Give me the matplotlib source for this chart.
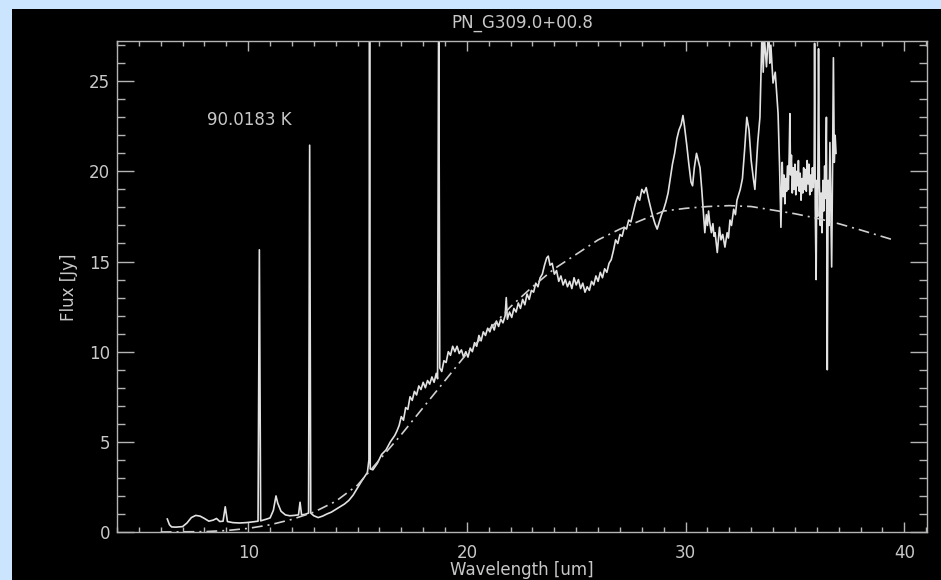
import matplotlib
matplotlib.use('Agg')
import matplotlib.pyplot as plt
from matplotlib.patches import Rectangle
from matplotlib.ticker import MultipleLocator

# spectrum (wavelength in um, flux in Jy)
wave = [6.30, 6.40, 6.50, 6.70, 7.00, 7.20, 7.40, 7.60, 7.80, 8.00,
        8.20, 8.40, 8.55, 8.70, 8.85, 8.95, 9.05, 9.30, 9.60, 9.90,
        10.20, 10.45, 10.51, 10.57, 10.80, 11.00, 11.15, 11.27, 11.35, 11.50,
        11.70, 11.90, 12.10, 12.30, 12.37, 12.44, 12.60, 12.76, 12.81, 12.86,
        13.00, 13.20, 13.40, 13.60, 13.80, 14.00, 14.20, 14.40, 14.60, 14.80,
        15.00, 15.20, 15.45, 15.52, 15.55, 15.58, 15.70, 15.90, 16.10, 16.30,
        16.50, 16.70, 16.80, 16.90, 17.00, 17.10, 17.20, 17.30, 17.40, 17.50,
        17.60, 17.70, 17.80, 17.90, 18.00, 18.10, 18.20, 18.30, 18.40, 18.50,
        18.60, 18.66, 18.71, 18.76, 18.85, 18.95, 19.05, 19.15, 19.25, 19.35,
        19.45, 19.55, 19.65, 19.75, 19.85, 19.95, 20.05, 20.15, 20.25, 20.35,
        20.45, 20.55, 20.65, 20.75, 20.85, 20.95, 21.05, 21.15, 21.25, 21.35,
        21.45, 21.55, 21.65, 21.75, 21.80, 21.85, 21.95, 22.05, 22.15, 22.25,
        22.35, 22.45, 22.55, 22.65, 22.75, 22.85, 22.95, 23.05, 23.15, 23.25,
        23.35, 23.45, 23.55, 23.65, 23.72, 23.80, 23.90, 24.00, 24.10, 24.20,
        24.30, 24.40, 24.50, 24.60, 24.70, 24.80, 24.90, 25.00, 25.10, 25.20,
        25.30, 25.40, 25.50, 25.60, 25.70, 25.80, 25.90, 26.00, 26.10, 26.20,
        26.30, 26.40, 26.50, 26.60, 26.70, 26.80, 26.90, 27.00, 27.10, 27.20,
        27.30, 27.40, 27.50, 27.60, 27.70, 27.80, 27.90, 28.00, 28.10, 28.20,
        28.30, 28.40, 28.50, 28.60, 28.70, 28.80, 28.90, 29.00, 29.10, 29.20,
        29.30, 29.40, 29.50, 29.60, 29.70, 29.80, 29.88, 29.95, 30.05, 30.15,
        30.25, 30.32, 30.40, 30.50, 30.58, 30.66, 30.74, 30.80, 30.88, 30.95,
        31.00, 31.05, 31.10, 31.18, 31.25, 31.30, 31.35, 31.45, 31.55, 31.62,
        31.70, 31.80, 31.90, 31.96, 32.03, 32.10, 32.20, 32.28, 32.35, 32.50,
        32.60, 32.70, 32.80, 32.90, 33.00, 33.10, 33.17, 33.30, 33.40, 33.50,
        33.55, 33.60, 33.70, 33.80, 33.85, 33.90, 34.00, 34.10, 34.18, 34.23,
        34.30, 34.36, 34.42, 34.46, 34.50, 34.54, 34.58, 34.62, 34.66, 34.70,
        34.74, 34.77, 34.80, 34.84, 34.88, 34.92, 34.96, 35.00, 35.04, 35.08,
        35.12, 35.16, 35.20, 35.24, 35.28, 35.32, 35.36, 35.40, 35.44, 35.48,
        35.52, 35.56, 35.60, 35.64, 35.68, 35.72, 35.76, 35.80, 35.84, 35.88,
        35.90, 35.93, 35.97, 36.00, 36.04, 36.08, 36.12, 36.16, 36.20, 36.24,
        36.28, 36.32, 36.36, 36.40, 36.44, 36.48, 36.52, 36.56, 36.60, 36.64,
        36.68, 36.72, 36.76, 36.80, 36.84, 36.88]
flux = [0.72, 0.40, 0.28, 0.27, 0.30, 0.50, 0.80, 0.92, 0.88, 0.75,
        0.60, 0.66, 0.75, 0.58, 0.60, 1.40, 0.58, 0.52, 0.50, 0.52,
        0.56, 0.60, 15.65, 0.62, 0.70, 0.78, 1.20, 2.00, 1.60, 1.15,
        0.95, 0.90, 0.92, 0.95, 1.65, 0.95, 0.98, 1.05, 21.45, 1.05,
        0.90, 0.80, 0.88, 1.00, 1.10, 1.25, 1.40, 1.55, 1.75, 2.05,
        2.45, 2.85, 3.30, 4.00, 30.0, 3.50, 3.45, 3.80, 4.30, 4.55,
        5.00, 5.35, 5.60, 5.90, 6.40, 6.20, 6.90, 6.80, 7.50, 7.30,
        7.80, 7.60, 8.10, 7.90, 8.30, 8.00, 8.40, 8.20, 8.60, 8.30,
        8.80, 8.50, 30.0, 9.10, 8.90, 9.50, 9.40, 10.0, 9.80, 10.3,
        10.0, 10.3, 9.90, 10.1, 9.70, 10.0, 9.70, 10.2, 10.0, 10.5,
        10.3, 10.9, 10.6, 11.1, 10.9, 11.3, 11.1, 11.5, 11.2, 11.7,
        11.4, 11.8, 11.6, 12.0, 13.0, 11.8, 12.2, 11.9, 12.4, 12.2,
        12.7, 12.4, 12.9, 12.6, 13.2, 12.9, 13.4, 13.3, 13.8, 13.6,
        14.1, 14.3, 14.8, 15.2, 15.3, 14.8, 14.9, 14.3, 14.5, 13.9,
        14.2, 13.7, 14.0, 13.6, 13.9, 13.5, 14.1, 13.7, 14.0, 13.5,
        13.8, 13.3, 13.6, 13.4, 13.9, 13.7, 14.2, 13.9, 14.4, 14.1,
        14.6, 14.4, 14.9, 15.1, 15.6, 16.2, 16.0, 16.5, 16.4, 16.9,
        16.8, 17.3, 17.2, 17.7, 18.2, 18.6, 18.4, 19.0, 18.8, 19.1,
        18.5, 18.0, 17.5, 17.1, 16.8, 17.2, 17.6, 17.9, 18.3, 18.8,
        19.6, 20.4, 21.0, 21.8, 22.3, 22.6, 23.1, 22.5, 21.5, 20.4,
        19.4, 19.2, 20.2, 21.0, 20.6, 20.2, 19.0, 18.0, 16.6, 17.6,
        17.0, 17.8, 17.2, 16.6, 17.1, 16.4, 16.6, 15.5, 16.9, 16.2,
        16.5, 15.8, 16.6, 16.3, 17.3, 17.0, 17.9, 17.6, 18.4, 19.0,
        19.6, 21.2, 23.0, 22.3, 20.6, 19.6, 19.0, 21.6, 23.0, 28.0,
        25.5, 27.5, 25.8, 28.0, 26.0, 27.0, 24.9, 25.5, 24.1, 23.2,
        20.2, 16.9, 20.5, 18.6, 19.8, 18.2, 19.6, 18.9, 20.3, 19.0,
        21.0, 23.2, 19.8, 20.9, 18.8, 20.2, 19.0, 20.4, 18.7, 20.0,
        19.2, 20.6, 18.9, 19.9, 18.4, 19.6, 18.8, 20.2, 19.0, 20.1,
        18.9, 20.6, 19.3, 20.4, 18.7, 19.8, 18.9, 20.2, 19.1, 20.5,
        27.1, 18.0, 14.0, 19.5, 17.5, 26.8, 19.3, 17.0, 18.8, 16.6,
        19.5, 17.8, 20.3, 18.5, 23.0, 9.00, 19.5, 17.0, 21.6, 18.0,
        14.7, 20.0, 26.3, 20.5, 22.0, 21.0]

# blackbody fit drawn as dash-dot
fit_wave = [6.0, 8.0, 9.0, 10.0, 11.0, 12.0, 13.0, 14.0, 15.0, 16.0,
            17.0, 18.0, 19.0, 20.0, 21.0, 22.0, 23.0, 24.0, 25.0, 26.0,
            27.0, 28.0, 29.0, 30.0, 31.0, 32.0, 33.0, 34.0, 35.0, 36.0,
            37.0, 38.0, 39.5]
fit_flux = [0.0, 0.02, 0.08, 0.2, 0.4, 0.7, 1.1, 1.7, 2.6, 4.0,
            5.4, 6.9, 8.4, 9.9, 11.2, 12.5, 13.6, 14.6, 15.4, 16.2,
            16.8, 17.3, 17.8, 17.95, 18.05, 18.1, 18.05, 17.85, 17.65, 17.4,
            17.1, 16.75, 16.2]

fg = '#c8c8c8'
W, H = 941, 580

fig = plt.figure(figsize=(W / 100, H / 100), dpi=100, facecolor='#cce5ff')
fig.patches.append(Rectangle((12 / W, 0), 1, 1 - 9 / H, transform=fig.transFigure,
                             facecolor='black', edgecolor='none', zorder=-10))
ax = fig.add_axes([117 / W, 48 / H, 810 / W, 491 / H])
ax.set_facecolor('black')

ax.plot(wave, flux, color='#e2e2e2', lw=1.2)
ax.plot(fit_wave, fit_flux, color='#d0d0d0', lw=1.2, linestyle=(0, (6.5, 3, 1.2, 3)))

ax.set_xlim(4, 41.04)
ax.set_ylim(0, 27.23)
ax.xaxis.set_major_locator(MultipleLocator(10))
ax.xaxis.set_minor_locator(MultipleLocator(1))
ax.yaxis.set_major_locator(MultipleLocator(5))
ax.yaxis.set_minor_locator(MultipleLocator(1))

for s in ax.spines.values():
    s.set_color('#b4b4b4')
    s.set_linewidth(1.0)
ax.tick_params(which='both', direction='in', top=True, right=True,
               color='#b4b4b4', labelcolor=fg, labelsize=12, width=1.0)
ax.tick_params(axis='x', which='major', length=7.2, pad=9)
ax.tick_params(axis='x', which='minor', length=3.6)
ax.tick_params(axis='y', which='major', length=12.2, pad=5)
ax.tick_params(axis='y', which='minor', length=6.1)

ax.text(8.12, 22.85, '90.0183 K', color=fg, fontsize=12, ha='left', va='center')

fig.text(522 / W, 1 - 23 / H, 'PN_G309.0+00.8', color=fg, fontsize=12,
         ha='center', va='center')
fig.text(522 / W, 1 - 570 / H, 'Wavelength [um]', color=fg, fontsize=12,
         ha='center', va='center')
fig.text(69 / W, 1 - 287 / H, 'Flux [Jy]', color=fg, fontsize=12,
         ha='center', va='center', rotation=90)

fig.savefig('out.png', dpi=100, facecolor=fig.get_facecolor())
